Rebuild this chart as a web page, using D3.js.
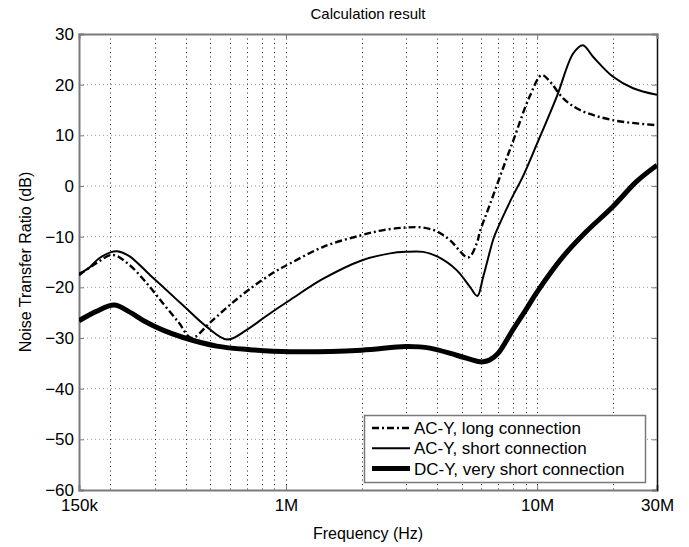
<!DOCTYPE html>
<html><head><meta charset="utf-8">
<script src="https://cdn.jsdelivr.net/npm/d3@7"></script>
<style>body{margin:0;background:#fff}svg{display:block;font-family:"Liberation Sans",Arial,sans-serif}</style>
</head><body><svg id="c" width="689" height="547"></svg>
<script>
const xTicks = [150e3, 1e6, 1e7, 3e7];
const xTickLabels = ["150k", "1M", "10M", "30M"];
const yTicks = [-60, -50, -40, -30, -20, -10, 0, 10, 20, 30];
const xGrid = [2e5,3e5,4e5,5e5,6e5,7e5,8e5,9e5,1e6,2e6,3e6,4e6,5e6,6e6,7e6,8e6,9e6,1e7,2e7];

const longF = [150e3,175e3,204e3,237e3,276e3,322e3,375e3,421e3,500e3,600e3,719e3,904e3,1.038e6,1.408e6,2e6,2.44e6,3e6,3.52e6,4e6,4.5e6,5.32e6,5.75e6,5.92e6,6.49e6,7.45e6,8.04e6,9.36e6,10.43e6,11.25e6,12.7e6,14.8e6,20e6,30e6];
const longV = [-17.6,-15.3,-13.6,-15.5,-18.9,-23.0,-27.0,-30.0,-26.9,-23.4,-20.3,-16.9,-15.3,-12.0,-9.7,-8.7,-8.2,-8.2,-9.0,-10.7,-14.1,-11.3,-9.0,-3.6,4.6,9.0,17.8,21.9,20.6,17.3,15.0,13.0,12.0];

const shortF = [150e3,164e3,180e3,200e3,213e3,237e3,288e3,322e3,390e3,484e3,584e3,698e3,838e3,1.038e6,1.408e6,2e6,2.6e6,3e6,3.52e6,4e6,4.78e6,5.4e6,5.78e6,6.1e6,6.69e6,6.9e6,7.92e6,8.8e6,10e6,11.96e6,13.93e6,15.2e6,16.7e6,20e6,24.1e6,30e6];
const shortV = [-17.3,-16.2,-14.3,-13.1,-12.9,-13.8,-17.6,-19.8,-23.6,-27.8,-30.3,-28.4,-25.6,-22.5,-18.3,-14.7,-13.3,-13.0,-13.0,-13.9,-16.6,-19.9,-21.7,-17.9,-10.5,-8.8,-2.4,2.0,8.4,17.6,26.2,27.8,25.5,21.6,19.3,18.0];

const dcF = [150e3,175e3,207e3,237e3,276e3,322e3,390e3,530e3,719e3,1.038e6,2e6,3e6,3.74e6,4.78e6,5.92e6,6.1e6,6.49e6,7e6,8e6,9e6,10e6,12.7e6,15.7e6,20e6,24.9e6,30e6];
const dcV = [-26.6,-24.8,-23.5,-24.8,-26.8,-28.4,-29.9,-31.6,-32.3,-32.7,-32.4,-31.7,-32.0,-33.4,-34.7,-34.7,-34.3,-33.0,-28.4,-24.5,-20.9,-13.9,-9.0,-4.1,0.9,4.1];

const seriesNames = ["AC-Y, long connection", "AC-Y, short connection", "DC-Y, very short connection"];

const svg = d3.select("#c");
const L = 79, R = 657, T = 34, B = 490;
const x = d3.scaleLog().domain([150e3, 30e6]).range([L, R]);
const y = d3.scaleLinear().domain([-60, 30]).range([B, T]);

// grid
svg.append("g").selectAll("line").data(yTicks.filter(v => v > -60 && v < 30)).join("line")
  .attr("x1", L).attr("x2", R).attr("y1", d => y(d)).attr("y2", d => y(d))
  .attr("stroke", "#999").attr("stroke-width", 1).attr("stroke-dasharray", "1,3");
svg.append("g").selectAll("line").data(xGrid).join("line")
  .attr("x1", d => Math.round(x(d)) + 0.5).attr("x2", d => Math.round(x(d)) + 0.5).attr("y1", T).attr("y2", B)
  .attr("stroke", "#222").attr("stroke-width", 1).attr("stroke-dasharray", "1,3.5");

// axes
const ax = svg.append("g").attr("transform", `translate(0,${B})`)
  .call(d3.axisBottom(x).tickValues(xTicks).tickFormat((d, i) => xTickLabels[i]).tickSize(-5).tickPadding(9));
const ay = svg.append("g").attr("transform", `translate(${L},0)`)
  .call(d3.axisLeft(y).tickValues(yTicks).tickSize(-5).tickPadding(5));
const ar = svg.append("g").attr("transform", `translate(${R},0)`)
  .call(d3.axisRight(y).tickValues(yTicks).tickSize(-5).tickFormat(""));
const at = svg.append("g").attr("transform", `translate(0,${T})`)
  .call(d3.axisTop(x).tickValues(xTicks).tickSize(-5).tickFormat(""));
[ax, ay, ar, at].forEach(g => {
  g.select(".domain").attr("stroke", "#7a7a7a").attr("stroke-width", 2);
  g.selectAll(".tick line").attr("stroke", "#7a7a7a");
  g.selectAll("text").attr("font-size", 17).attr("fill", "#000").attr("font-family", "Liberation Sans, Arial, sans-serif");
});
ar.select(".domain").attr("stroke", "#111").attr("stroke-width", 1.5);

// curves
const line = d3.line().x(d => x(d[0])).y(d => y(d[1])).curve(d3.curveCatmullRom.alpha(0.5));
svg.append("clipPath").attr("id", "clp").append("rect").attr("x", L).attr("y", T).attr("width", R - L).attr("height", B - T);
const g = svg.append("g").attr("clip-path", "url(#clp)");
const styles = [
  {w: 2.4, dash: "7,3,2,3"},
  {w: 2, dash: null},
  {w: 5, dash: null}
];
const data = [d3.zip(longF, longV), d3.zip(shortF, shortV), d3.zip(dcF, dcV)];
data.forEach((d, i) => {
  g.append("path").datum(d).attr("d", line).attr("fill", "none").attr("stroke", "#000")
    .attr("stroke-width", styles[i].w).attr("stroke-dasharray", styles[i].dash).attr("stroke-linejoin", "round");
});

// legend
const lg = svg.append("g");
lg.append("rect").attr("x", 364.5).attr("y", 415.5).attr("width", 281).attr("height", 67)
  .attr("fill", "#fff").attr("stroke", "#7a7a7a").attr("stroke-width", 1.5);
seriesNames.forEach((n, i) => {
  const yy = 428 + i * 20.3;
  lg.append("line").attr("x1", 372).attr("x2", 410).attr("y1", yy).attr("y2", yy)
    .attr("stroke", "#000").attr("stroke-width", styles[i].w).attr("stroke-dasharray", styles[i].dash);
  lg.append("text").attr("x", 414).attr("y", yy).attr("dy", "0.36em").attr("font-size", 17).text(n);
});

// titles
svg.append("text").attr("x", (L + R) / 2).attr("y", 19).attr("text-anchor", "middle").attr("font-size", 15).text("Calculation result");
svg.append("text").attr("x", (L + R) / 2).attr("y", 539).attr("text-anchor", "middle").attr("font-size", 16).text("Frequency (Hz)");
svg.append("text").attr("transform", `translate(31,${(T + B) / 2}) rotate(-90)`).attr("text-anchor", "middle").attr("font-size", 16).text("Noise Transfer Ratio (dB)");
</script></body></html>
